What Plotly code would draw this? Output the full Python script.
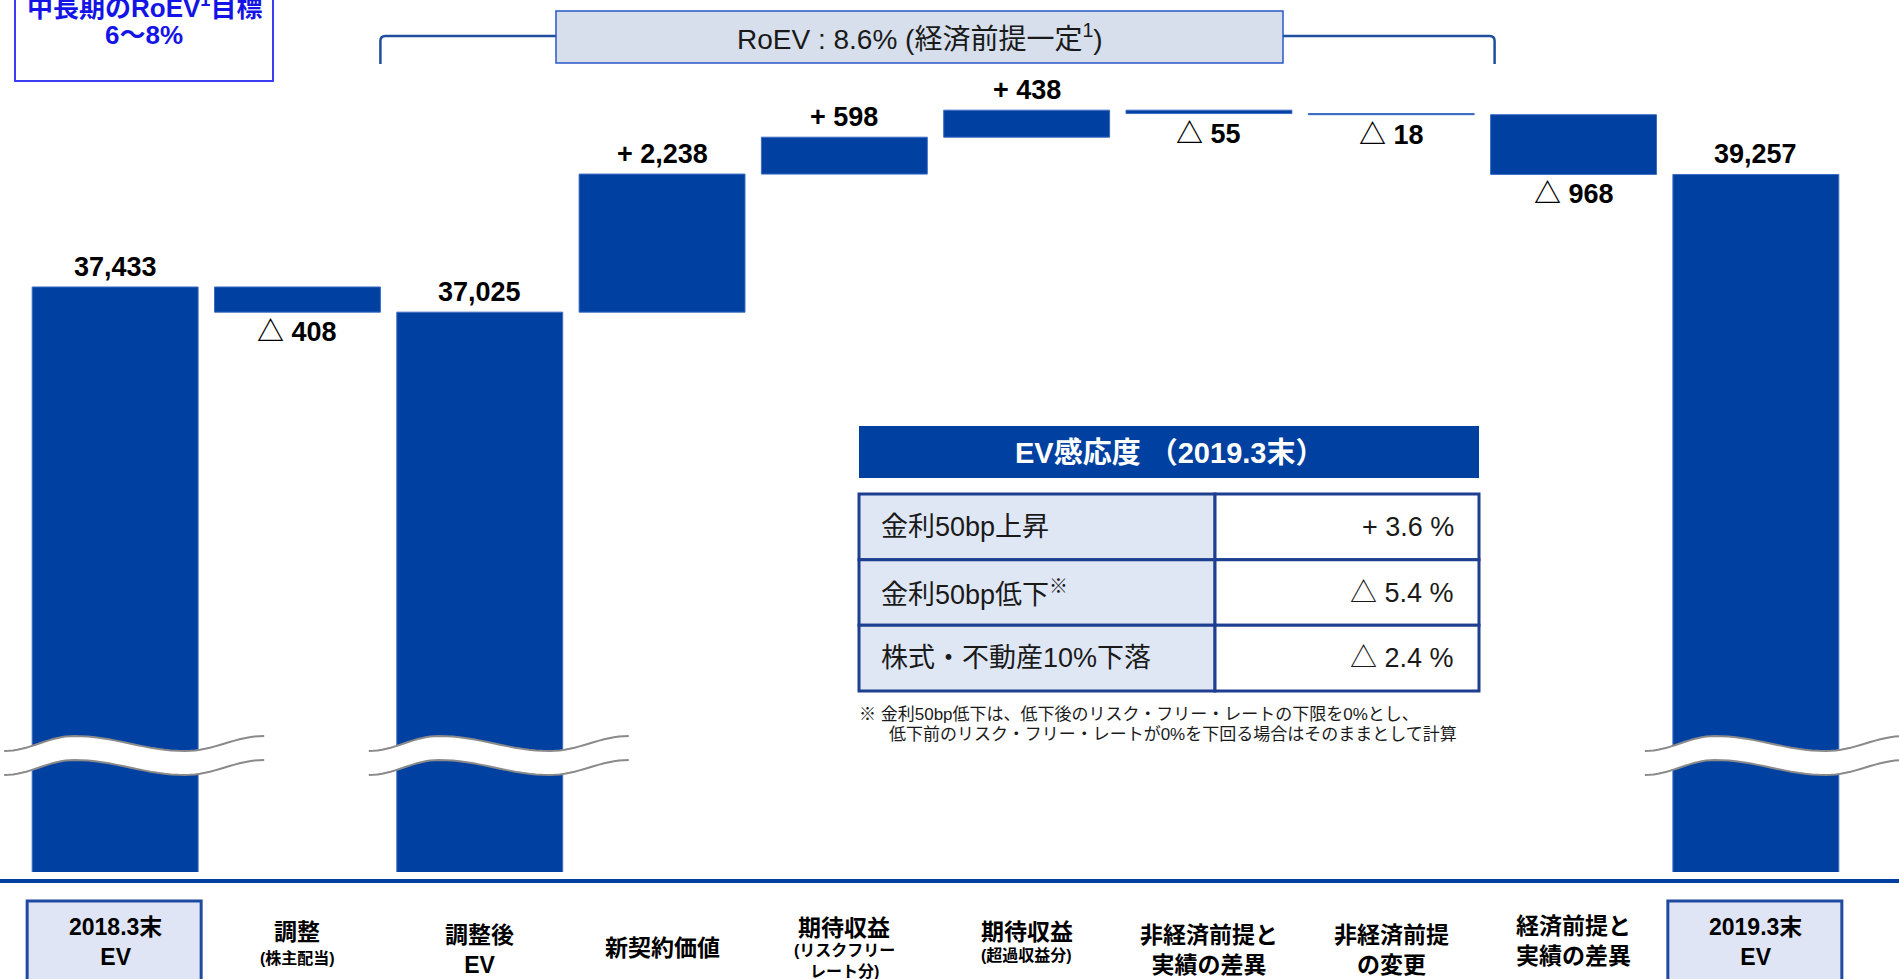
import plotly.graph_objects as go
import math

# ---------------- data ----------------
categories = ["2018.3末<br>EV", "調整", "調整後<br>EV", "新契約価値", "期待収益", "期待収益",
              "非経済前提と<br>実績の差異", "非経済前提<br>の変更", "経済前提と<br>実績の差異", "2019.3末<br>EV"]
category_notes = ["", "(株主配当)", "", "", "(リスクフリー<br>レート分)", "(超過収益分)", "", "", "", ""]
measures = ["absolute", "relative", "total", "relative", "relative", "relative",
            "relative", "relative", "relative", "absolute"]
ev_values = [37433, -408, 0, 2238, 598, 438, -55, -18, -968, 39257]

roev_text = "RoEV : 8.6% (経済前提一定<sup>1</sup>)"
target_lines = ["中長期のRoEV<sup>1</sup>目標", "6〜8%"]
sens_title = "EV感応度 （2019.3末）"
sens_labels = ["金利50bp上昇", "金利50bp低下<sup>※</sup>", "株式・不動産10%下落"]
sens_values = ["+ 3.6 %", "△ 5.4 %", "△ 2.4 %"]
footnote_lines = ["※ 金利50bp低下は、低下後のリスク・フリー・レートの下限を0%とし、",
                  "低下前のリスク・フリー・レートが0%を下回る場合はそのままとして計算"]

# ---------------- styles / geometry ----------------
W, H = 1899, 979
L, R, T, B = 24, 52, 0, 107
PW, PH = W - L - R, H - T - B
Y0, Y1 = 27950, 42085
GAP = 0.09
BLUE = "#0040a0"
FONT = "'Liberation Sans', Arial, 'Noto Sans CJK JP', sans-serif"


def fx(px):
    return (px - L) / PW


def fy(py):
    return (H - B - py) / PH


def xpx(xd):
    return L + (xd + 0.5) * PW / 10


n = len(categories)
xs = list(range(n))

# running totals
starts, ends = [], []
cur = 0
for m, v in zip(measures, ev_values):
    if m == "absolute":
        s, cur, e = 0, v, v
    elif m == "total":
        s, e = 0, cur
    else:
        s = cur
        cur += v
        e = cur
    starts.append(s)
    ends.append(e)

fig = go.Figure()
bar_marker = dict(marker=dict(color=BLUE, line=dict(color="#3a6cc4", width=1)))
fig.add_trace(go.Waterfall(
    x=xs, y=ev_values, measure=measures,
    textinfo="none", connector=dict(visible=False),
    increasing=bar_marker, decreasing=bar_marker, totals=bar_marker,
    hoverinfo="skip",
))

annotations = []
shapes = []

# value labels
for i, (m, v, s, e) in enumerate(zip(measures, ev_values, starts, ends)):
    if m in ("absolute", "total"):
        txt, yv, sh = f"{e:,}", e, 20
    elif v >= 0:
        txt, yv, sh = f"+ {v:,}", e, 20
    else:
        txt, yv, sh = f"△ {-v:,}", e, -20
    annotations.append(dict(x=i, y=yv, xref="x", yref="y", text=txt, showarrow=False,
                            xanchor="center", yanchor="middle", yshift=sh,
                            font=dict(family=FONT, size=27, color="#000", weight="bold")))

# broken-axis wave marks on full bars
half_w = (1 - GAP) / 2 * PW / 10
for i, m in enumerate(measures):
    if m not in ("absolute", "total"):
        continue
    left = xpx(i) - half_w
    knots = [(left - 28, 751), (left + 42, 736), (left + 153, 751), (left + 232, 736)]
    pts = []
    for k in range(len(knots) - 1):
        (x0, y0), (x1, y1) = knots[k], knots[k + 1]
        steps = 16
        for j in range(steps + (1 if k == len(knots) - 2 else 0)):
            t = j / steps
            pts.append((x0 + (x1 - x0) * t, y0 + (y1 - y0) * (1 - math.cos(math.pi * t)) / 2))
    up = pts
    lo = [(px, py + 24) for px, py in pts]
    band = "M " + " L ".join(f"{fx(px):.5f},{fy(py):.5f}" for px, py in up)
    band += " L " + " L ".join(f"{fx(px):.5f},{fy(py):.5f}" for px, py in reversed(lo)) + " Z"
    shapes.append(dict(type="path", path=band, xref="paper", yref="paper",
                       fillcolor="white", line=dict(width=0)))
    for curve in (up, lo):
        p = "M " + " L ".join(f"{fx(px):.5f},{fy(py):.5f}" for px, py in curve)
        shapes.append(dict(type="path", path=p, xref="paper", yref="paper",
                           line=dict(color="#8a8a8a", width=2)))

# baseline
shapes.append(dict(type="line", xref="paper", yref="paper", x0=fx(0), x1=fx(W),
                   y0=fy(881), y1=fy(881), line=dict(color=BLUE, width=4)))

# category labels
main_y = [942.5, 932, 949.5, 948, 928, 932, 950, 950, 941.5, 942.5]
note_y = [None, 958, None, None, 961.5, 955, None, None, None, None]
for i, (lab, note, m) in enumerate(zip(categories, category_notes, measures)):
    cx = xpx(i)
    if m == "absolute":
        shapes.append(dict(type="rect", xref="paper", yref="paper",
                           x0=fx(cx - 88), x1=fx(cx + 86), y0=fy(995), y1=fy(901),
                           fillcolor="#dfe5f4", line=dict(color="#1f4aa0", width=3)))
    annotations.append(dict(x=i, xref="x", y=fy(main_y[i]), yref="paper", text=lab,
                            showarrow=False, xanchor="center", yanchor="middle",
                            font=dict(family=FONT, size=23, color="#000", weight="bold")))
    if note:
        annotations.append(dict(x=i, xref="x", y=fy(note_y[i]), yref="paper", text=note,
                                showarrow=False, xanchor="center", yanchor="middle",
                                font=dict(family=FONT, size=16, color="#000", weight="bold")))

# RoEV bracket and box
bl = xpx(1) + half_w
br = xpx(8) - half_w + 4
shapes.append(dict(type="path", xref="paper", yref="paper",
                   path=(f"M {fx(bl)},{fy(64)} L {fx(bl)},{fy(41)} Q {fx(bl)},{fy(36)} {fx(bl + 5)},{fy(36)} "
                         f"L {fx(br - 5)},{fy(36)} Q {fx(br)},{fy(36)} {fx(br)},{fy(41)} L {fx(br)},{fy(64)}"),
                   line=dict(color="#1f4e9f", width=2.5)))
shapes.append(dict(type="rect", xref="paper", yref="paper", x0=fx(556), x1=fx(1283),
                   y0=fy(63), y1=fy(11), fillcolor="#d6dfeb", line=dict(color="#2a58c8", width=1.5)))
annotations.append(dict(x=fx(919.5), y=fy(37), xref="paper", yref="paper", text=roev_text,
                        showarrow=False, xanchor="center", yanchor="middle",
                        font=dict(family=FONT, size=28, color="#1a1a1a")))

# target box (top-left)
shapes.append(dict(type="rect", xref="paper", yref="paper", x0=fx(15), x1=fx(273),
                   y0=fy(81), y1=fy(-10), line=dict(color="#3c3cf5", width=2)))
for txt, yc in zip(target_lines, [7, 35]):
    annotations.append(dict(x=fx(144), y=fy(yc), xref="paper", yref="paper", text=txt,
                            showarrow=False, xanchor="center", yanchor="middle",
                            font=dict(family=FONT, size=26, color="#1414e6", weight="bold")))

# sensitivity table
tl, tr, tmid = 859, 1479, 1215
shapes.append(dict(type="rect", xref="paper", yref="paper", x0=fx(tl), x1=fx(tr),
                   y0=fy(478), y1=fy(426), fillcolor=BLUE, line=dict(width=0)))
annotations.append(dict(x=fx((tl + tr) / 2), y=fy(453), xref="paper", yref="paper", text=sens_title,
                        showarrow=False, xanchor="center", yanchor="middle",
                        font=dict(family=FONT, size=29, color="white", weight="bold")))
row_edges = [494, 559.7, 625.3, 691]
for r, (lab, val) in enumerate(zip(sens_labels, sens_values)):
    y0p, y1p = row_edges[r], row_edges[r + 1]
    shapes.append(dict(type="rect", xref="paper", yref="paper", x0=fx(tl), x1=fx(tmid),
                       y0=fy(y1p), y1=fy(y0p), fillcolor="#dfe6f4", line=dict(color="#1e3f8f", width=3)))
    shapes.append(dict(type="rect", xref="paper", yref="paper", x0=fx(tmid), x1=fx(tr),
                       y0=fy(y1p), y1=fy(y0p), fillcolor="white", line=dict(color="#1e3f8f", width=3)))
    yc = (y0p + y1p) / 2
    annotations.append(dict(x=fx(879), y=fy(yc), xref="paper", yref="paper", text=lab,
                            showarrow=False, xanchor="left", yanchor="middle",
                            font=dict(family=FONT, size=27, color="#1a1a1a")))
    annotations.append(dict(x=fx(1456), y=fy(yc), xref="paper", yref="paper", text=val,
                            showarrow=False, xanchor="right", yanchor="middle",
                            font=dict(family=FONT, size=27, color="#1a1a1a")))
for txt, xl, yc in zip(footnote_lines, [857, 887], [714, 734]):
    annotations.append(dict(x=fx(xl), y=fy(yc), xref="paper", yref="paper", text=txt,
                            showarrow=False, xanchor="left", yanchor="middle",
                            font=dict(family=FONT, size=17, color="#1a1a1a")))

fig.update_layout(
    width=W, height=H, margin=dict(l=L, r=R, t=T, b=B),
    paper_bgcolor="white", plot_bgcolor="white", showlegend=False,
    waterfallgap=GAP,
    xaxis=dict(range=[-0.5, n - 0.5], visible=False, fixedrange=True),
    yaxis=dict(range=[Y0, Y1], visible=False, fixedrange=True),
    shapes=shapes, annotations=annotations,
)
fig.write_html("out.html", config={"displayModeBar": False},
               post_script="document.body.style.margin='0';document.body.style.padding='0';"
                           "document.body.style.overflow='hidden';")
